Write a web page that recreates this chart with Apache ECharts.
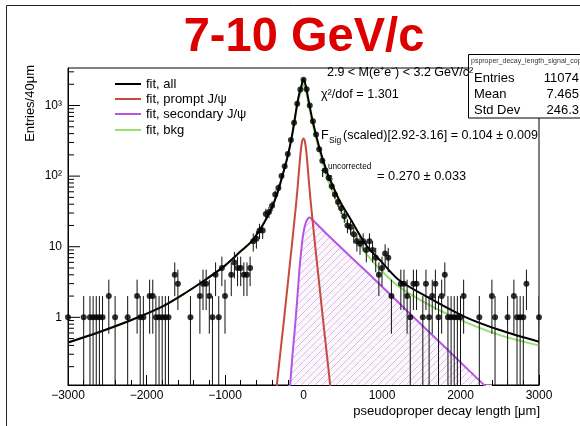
<!DOCTYPE html>
<html><head><meta charset="utf-8">
<script src="https://cdn.jsdelivr.net/npm/echarts@6/dist/echarts.min.js"></script>
<style>html,body{margin:0;padding:0;background:#fff}#c{width:580px;height:426px}</style>
</head><body><div id="c"></div>
<script>
// ---------------- data ----------------
const titleText = '7-10 GeV/c';
const binX = [-3000,-2800,-2720,-2680,-2640,-2600,-2560,-2480,-2400,-2240,-2120,-2080,-2040,-1960,-1920,-1880,-1840,-1800,-1760,-1720,-1640,-1600,-1440,-1320,-1280,-1240,-1200,-1160,-1120,-1080,-1040,-1000,-920,-880,-840,-800,-760,-720,-680,-640,-600,-560,-520,-480,-440,-400,-360,-320,-280,-240,-200,-160,-120,-80,-40,0,
  40,80,120,160,200,240,280,320,360,400,440,480,520,560,600,640,680,720,760,800,840,880,920,960,1000,1040,1080,1120,1240,1280,1320,1360,1400,1440,1520,1560,1600,1640,1680,1720,1760,1800,1840,1880,1920,1960,2000,2040,2240,2400,2440,2600,2680,2720,2760,2800,2840,3000];
const binCount = [1,1,1,1,1,1,1,2,1,1,2,1,1,2,2,1,1,1,1,1,4,3,1,2,3,3,2,1,4,1,5,2,4,6,5,5,4,4,5,12,13,17,17,29,31,38,55,68,100,138,205,325,570,1060,1690,2320,
  1700,1000,600,390,240,165,120,95,72,55,43,35,27,20,19,15,12,11,12,9,12,9,7,4,5,8,7,2,3,3,2,1,3,3,1,3,1,2,3,1,2,4,1,1,1,1,1,2,1,2,1,1,2,1,1,1,3,1];

const fitX   = [-3000,-2600,-2200,-1800,-1500,-1250,-1000,-800,-650,-500,-400,-330,-270,-220,-180,-150,-120,-90,-60,-30,0,30,60,90,120,150,180,220,260,320,380,460,600,800,1000,1220,1650,2070,2500,3000];
const fitAll = [0.44,0.62,0.91,1.42,2.23,3.4,5.4,8.6,12.3,22,36.6,58.7,100,158,244,356,560,912,1377,1843,2350,1884,1257,841,584,423,313,216,155,99,70,45,24.5,10.5,6.0,3.35,1.75,1.0,0.66,0.45];
const fitBkg = [0.44,0.62,0.91,1.42,2.23,3.4,5.4,8.6,12.3,22,36.5,58.5,99.5,157,241,346,533,857,1262,1584,1994,1612,1122,765,532,389,285,193,135,83,57,35,17.5,8.0,4.5,2.7,1.4,0.85,0.56,0.40];
const promptX = [-360,-340,-300,-250,-200,-150,-100,-80,-60,-40,-20,0,20,40,60,80,100,150,200,250,300,340,360];
const promptY = [0.07,0.11,0.28,0.9,3,10,35,60,110,200,300,340,300,200,110,60,35,10,3,0.9,0.28,0.11,0.07];
const secX = [-190,-170,-140,-115,-80,-50,-20,0,30,60,80,110,150,300,600,900,1200,1500,1800,2100,2300,2400];
const secY = [0.06,0.11,0.3,0.6,1.8,5,11,16,22,25.5,26,24.5,22,15,7.2,3.5,1.66,0.79,0.38,0.18,0.11,0.085];

const yMajorTicks = [1,10,100,1000];
const yMinorTicks = [0.2,0.3,0.4,0.5,0.6,0.7,0.8,0.9,2,3,4,5,6,7,8,9,20,30,40,50,60,70,80,90,200,300,400,500,600,700,800,900,2000,3000];
const legendNames = ['fit, all','fit, prompt J/\u03c8','fit, secondary J/\u03c8','fit, bkg'];
const statsLabels = ['Entries','Mean','Std Dev'];
const statsValues = ['11074','7.465','246.3'];

// ---------------- style ----------------
const X_MIN = -3000, X_MAX = 3000, Y_MIN = 0.11, Y_MAX = 3400;
const C_ALL = '#000000', C_PROMPT = '#c64a3e', C_SEC = '#b455e4', C_BKG = '#98e070';
const FONT = 'Liberation Sans, Arial, Helvetica, sans-serif';

const pc = document.createElement('canvas'); pc.width = 7; pc.height = 7;
const g = pc.getContext('2d');
g.fillStyle = '#fcf6fd'; g.fillRect(0,0,7,7);
g.strokeStyle = '#dcbde8'; g.lineWidth = 1;
g.beginPath(); g.moveTo(0,7); g.lineTo(7,0); g.moveTo(-1,1); g.lineTo(1,-1); g.moveTo(6,8); g.lineTo(8,6); g.stroke();

const zip = (a,b) => a.map((x,i)=>[x,b[i]]);
const chart = echarts.init(document.getElementById('c'), null, {renderer:'canvas'});

const legendColors = [C_ALL, C_PROMPT, C_SEC, C_BKG];
const legendY = [84, 99, 114, 130];
const graphics = [];
graphics.push({type:'line', z:100, shape:{x1:6.5,y1:5.5,x2:580,y2:5.5}, style:{stroke:'#222', lineWidth:1}});
graphics.push({type:'line', z:100, shape:{x1:6.5,y1:5.5,x2:6.5,y2:426}, style:{stroke:'#222', lineWidth:1}});
graphics.push({type:'text', z:100, x:304, y:37, scaleX:0.96, style:{text:titleText, font:'bold 49px '+FONT, fill:'#dd0000', align:'center', verticalAlign:'middle'}});
legendNames.forEach((n,i)=>{
  graphics.push({type:'line', z:100, shape:{x1:115,y1:legendY[i],x2:141,y2:legendY[i]}, style:{stroke:legendColors[i], lineWidth:2}});
  graphics.push({type:'text', z:100, x:146, y:legendY[i], style:{text:n, font:'13px '+FONT, fill:'#000', verticalAlign:'middle'}});
});
graphics.push({type:'rect', z:100, shape:{x:468.5,y:54.5,width:140,height:63.5}, style:{fill:'#fff', stroke:'#000', lineWidth:1}});
graphics.push({type:'text', z:101, x:471, y:61, style:{text:'psproper_decay_length_signal_copy', font:'7px '+FONT, fill:'#333', verticalAlign:'middle'}});
statsLabels.forEach((s,i)=>{
  graphics.push({type:'text', z:101, x:474, y:78+16*i, style:{text:s, font:'13px '+FONT, fill:'#000', verticalAlign:'middle'}});
  graphics.push({type:'text', z:101, x:579, y:78+16*i, style:{text:statsValues[i], font:'13px '+FONT, fill:'#000', align:'right', verticalAlign:'middle'}});
});
const T = (t,x,y,size,align) => graphics.push({type:'text', z:102, x:x, y:y, style:{text:t, font:size+'px '+FONT, fill:'#000', align:align||'left', verticalAlign:'middle'}});
T('2.9 < M(e\u207ae\u207b) < 3.2 GeV/c\u00b2', 327, 73, 12.5);
T('\u03c7\u00b2/dof = 1.301', 321, 95, 12.6);
T('F', 321, 136, 12.6);
T('Sig', 329, 141, 8.5);
T('(scaled)[2.92-3.16] = 0.104 \u00b1 0.009', 343, 136, 12.5);
T('f', 321, 174, 12.6);
T('uncorrected', 328, 167, 8.2);
T('B', 327, 179, 9);
T('= 0.270 \u00b1 0.033', 377, 176, 12.8);
T('pseudoproper decay length [\u03bcm]', 540, 411, 13, 'right');
graphics.push({type:'text', z:102, x:30, y:65, rotation:Math.PI/2, style:{text:'Entries/40\u03bcm', font:'13px '+FONT, fill:'#000', align:'right', verticalAlign:'middle'}});

const tickData = yMajorTicks.map(v=>[X_MIN, v, 1]).concat(yMinorTicks.map(v=>[X_MIN, v, 0]));
const errData = zip(binX, binCount);

chart.setOption({
  animation:false,
  backgroundColor:'#fff',
  grid:{left:68, right:41, top:68, bottom:41, show:true, borderColor:'#000', borderWidth:1, backgroundColor:'transparent'},
  xAxis:{type:'value', min:X_MIN, max:X_MAX, interval:1000,
    axisLine:{show:true, onZero:false, lineStyle:{color:'#000', width:1}},
    axisTick:{show:true, inside:true, length:10, lineStyle:{color:'#000'}},
    minorTick:{show:true, splitNumber:5, length:5, lineStyle:{color:'#000'}},
    splitLine:{show:false},
    axisLabel:{color:'#000', fontSize:12, fontFamily:FONT, margin:5, formatter:(v)=> v<0 ? '\u2212'+Math.abs(v) : String(v)}},
  yAxis:{type:'log', logBase:10, min:Y_MIN, max:Y_MAX,
    axisLine:{show:true, onZero:false, lineStyle:{color:'#000', width:1}},
    axisTick:{show:false}, splitLine:{show:false},
    axisLabel:{color:'#000', fontSize:12, fontFamily:FONT, margin:6, showMinLabel:false, showMaxLabel:false,
      formatter:(v)=>{ const e = Math.round(Math.log10(v)); if (Math.abs(v-Math.pow(10,e)) > 1e-6*Math.abs(v)) return ''; if (e===3) return '10\u00b3'; if (e===2) return '10\u00b2'; if (e===1) return '10'; if (e===0) return '1'; return ''; }}},
  graphic: graphics,
  series:[
    {type:'line', name:legendNames[2], data:zip(secX,secY), showSymbol:false, smooth:0.3, clip:true, z:2,
      lineStyle:{color:C_SEC, width:2}, areaStyle:{color:{image:pc, repeat:'repeat'}, origin:'start', opacity:1}},
    {type:'line', name:legendNames[1], data:zip(promptX,promptY), showSymbol:false, smooth:0.3, clip:true, z:3, lineStyle:{color:C_PROMPT, width:2}},
    {type:'line', name:legendNames[3], data:zip(fitX,fitBkg), showSymbol:false, smooth:0.3, clip:true, z:3, lineStyle:{color:C_BKG, width:2}},
    {type:'line', name:legendNames[0], data:zip(fitX,fitAll), showSymbol:false, smooth:0.3, clip:true, z:4, lineStyle:{color:C_ALL, width:2}},
    {type:'custom', name:'errors', data:errData, clip:true, z:5,
      renderItem:(params, api)=>{
        const x = api.value(0), v = api.value(1), e = Math.sqrt(v);
        const p1 = api.coord([x, Math.max(v-e, Y_MIN)]), p2 = api.coord([x, Math.min(v+e, Y_MAX)]);
        return {type:'line', shape:{x1:p1[0], y1:p1[1], x2:p2[0], y2:p2[1]}, style:{stroke:'#111', lineWidth:1}};
      }},
    {type:'scatter', name:'data', data:zip(binX,binCount), symbol:'circle', symbolSize:6, itemStyle:{color:'#000'}, z:6, clip:false},
    {type:'custom', name:'yticks', data:tickData, clip:false, z:7,
      renderItem:(params, api)=>{
        const p = api.coord([api.value(0), api.value(1)]);
        const len = api.value(2) ? 12 : 6;
        return {type:'line', shape:{x1:p[0], y1:p[1], x2:p[0]+len, y2:p[1]}, style:{stroke:'#000', lineWidth:1}};
      }}
  ]
});
</script></body></html>
